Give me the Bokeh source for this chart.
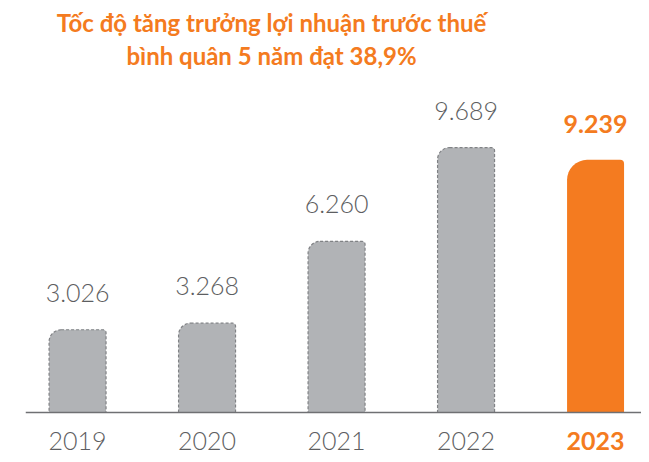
from bokeh.plotting import figure
from bokeh.models import ColumnDataSource, Label, Range1d
from bokeh.core.properties import value
from bokeh.embed import file_html
from bokeh.resources import INLINE

years = ["2019", "2020", "2021", "2022", "2023"]
profit = [3026, 3268, 6260, 9689, 9239]
title_lines = ["Tốc độ tăng trưởng lợi nhuận trước thuế", "bình quân 5 năm đạt 38,9%"]

ORANGE = "#F47B20"
GRAY_FILL = "#B1B3B6"
GRAY_LINE = "#808285"
TEXT_GRAY = "#5d5e61"

xs = list(range(len(years)))
labels = [f"{v:,}".replace(",", ".") for v in profit]

W, H = 641, 454
p = figure(width=W, height=H, output_backend="svg", toolbar_location=None,
           x_range=Range1d(-0.595, -0.595 + W / 129.5),
           y_range=Range1d(-1536, -1536 + H * 36.57),
           min_border=0, min_border_left=0, min_border_right=0,
           min_border_top=0, min_border_bottom=0)
p.axis.visible = False
p.grid.visible = False
p.outline_line_color = None
p.background_fill_color = "white"

hist = ColumnDataSource(dict(x=xs[:-1], top=profit[:-1], lab=labels[:-1], yr=years[:-1]))
last = ColumnDataSource(dict(x=xs[-1:], top=profit[-1:], lab=labels[-1:], yr=years[-1:]))

p.vbar(x="x", top="top", bottom=0, width=0.44, source=hist,
       fill_color=GRAY_FILL, line_color=GRAY_LINE, line_dash="3 2", line_width=1.2,
       border_radius=(12, 3, 0, 0))
p.vbar(x="x", top="top", bottom=0, width=0.44, source=last,
       fill_color=ORANGE, line_color=None, border_radius=(20, 4, 0, 0))

p.segment(x0=[xs[0] - 0.40], y0=[0], x1=[xs[-1] + 0.39], y1=[0],
          line_color="#6f7073", line_width=1.5)

p.text(x="x", y="top", text="lab", source=hist, y_offset=-37,
       text_align="center", text_baseline="middle", text_color=TEXT_GRAY,
       text_font=value("Lato Light"), text_font_size="25px")
p.text(x="x", y="top", text="lab", source=last, y_offset=-36,
       text_align="center", text_baseline="middle", text_color=ORANGE,
       text_font=value("Lato"), text_font_style="bold", text_font_size="25px")

p.text(x="x", y=0, text="yr", source=hist, y_offset=29,
       text_align="center", text_baseline="middle", text_color=TEXT_GRAY,
       text_font=value("Lato Light"), text_font_size="25px")
p.text(x="x", y=0, text="yr", source=last, y_offset=29,
       text_align="center", text_baseline="middle", text_color=ORANGE,
       text_font=value("Lato"), text_font_style="bold", text_font_size="25px")

for i, line in enumerate(title_lines):
    p.add_layout(Label(x=271, y=H - 22 - 33 * i, x_units="screen", y_units="screen",
                       text=line, text_align="center", text_baseline="middle",
                       text_color=ORANGE, text_font="Lato",
                       text_font_style="bold", text_font_size="24px"))

open("out.html", "w").write(file_html(p, INLINE))
